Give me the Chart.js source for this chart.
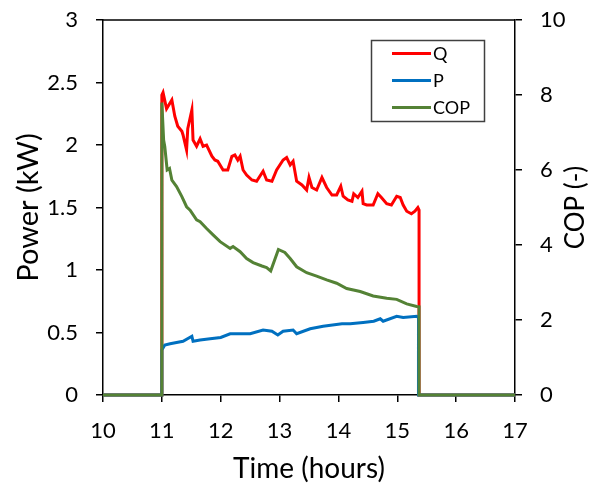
<!DOCTYPE html>
<html>
<head>
<meta charset="utf-8">
<script src="https://cdn.jsdelivr.net/npm/chart.js@4.4.1/dist/chart.umd.min.js"></script>
<style>
  body { margin: 0; background: #fff; }
  #wrap { width: 591px; height: 487px; }
</style>
</head>
<body>
<div id="wrap"><canvas id="heat-pump-chart" width="591" height="487"></canvas></div>
<script>
// time in hours
const qTime = [10, 11.0, 11.0, 11.02, 11.08, 11.17, 11.22, 11.27, 11.34, 11.36, 11.42, 11.44, 11.51, 11.53, 11.59, 11.65, 11.70, 11.76, 11.85, 11.90, 11.95, 12.04, 12.12, 12.19, 12.24, 12.29, 12.33, 12.38, 12.44, 12.53, 12.61, 12.72, 12.78, 12.87, 12.95, 13.06, 13.12, 13.18, 13.23, 13.29, 13.38, 13.46, 13.50, 13.55, 13.63, 13.72, 13.80, 13.89, 13.97, 14.04, 14.08, 14.16, 14.23, 14.26, 14.33, 14.40, 14.42, 14.48, 14.59, 14.67, 14.73, 14.82, 14.90, 14.99, 15.05, 15.10, 15.16, 15.24, 15.30, 15.35, 15.37, 15.37, 17];
const qValues = [0, 0, 2.40, 2.42, 2.29, 2.36, 2.23, 2.15, 2.11, 2.08, 1.96, 2.13, 2.28, 2.04, 1.99, 2.05, 1.99, 2.00, 1.91, 1.88, 1.87, 1.80, 1.80, 1.91, 1.92, 1.88, 1.91, 1.80, 1.76, 1.72, 1.71, 1.79, 1.72, 1.71, 1.80, 1.88, 1.90, 1.84, 1.87, 1.71, 1.68, 1.64, 1.74, 1.66, 1.64, 1.74, 1.66, 1.60, 1.60, 1.67, 1.59, 1.56, 1.55, 1.61, 1.58, 1.63, 1.53, 1.52, 1.52, 1.61, 1.58, 1.53, 1.52, 1.59, 1.58, 1.52, 1.47, 1.45, 1.47, 1.50, 1.48, 0, 0];

const pTime = [10, 11.0, 11.0, 11.05, 11.14, 11.25, 11.36, 11.51, 11.53, 11.65, 11.82, 12.0, 12.16, 12.29, 12.50, 12.72, 12.87, 12.97, 13.06, 13.23, 13.29, 13.52, 13.74, 14.06, 14.20, 14.42, 14.60, 14.71, 14.76, 14.99, 15.10, 15.33, 15.36, 15.36, 17];
const pValues = [0, 0, 0.36, 0.40, 0.41, 0.42, 0.43, 0.47, 0.43, 0.44, 0.45, 0.46, 0.49, 0.49, 0.49, 0.52, 0.51, 0.48, 0.51, 0.52, 0.49, 0.53, 0.55, 0.57, 0.57, 0.58, 0.59, 0.61, 0.59, 0.63, 0.62, 0.63, 0.62, 0, 0];

const copTime = [10, 11.0, 11.0, 11.03, 11.05, 11.09, 11.13, 11.17, 11.25, 11.34, 11.42, 11.48, 11.59, 11.65, 11.76, 11.87, 11.99, 12.16, 12.21, 12.33, 12.44, 12.55, 12.70, 12.78, 12.85, 12.98, 13.09, 13.18, 13.29, 13.46, 13.63, 13.80, 13.97, 14.14, 14.37, 14.59, 14.82, 14.99, 15.16, 15.33, 15.37, 15.37, 17];
const copValues = [0, 0, 7.80, 6.80, 6.62, 6.00, 6.04, 5.73, 5.56, 5.29, 5.02, 4.93, 4.67, 4.62, 4.44, 4.27, 4.09, 3.91, 3.96, 3.82, 3.64, 3.53, 3.44, 3.40, 3.31, 3.88, 3.80, 3.64, 3.42, 3.26, 3.17, 3.07, 2.98, 2.84, 2.76, 2.64, 2.58, 2.55, 2.43, 2.36, 2.35, 0, 0];

const seriesLabels = ["Q", "P", "COP"];
const seriesColors = ["#FF0000", "#0070C0", "#548235"];

const FONT = "Lato, 'Open Sans', sans-serif";

function toPoints(xs, ys) {
  return xs.map((x, i) => ({ x: x, y: ys[i] }));
}

// top border of the plot area
const topBorder = {
  id: "topBorder",
  afterDraw(chart) {
    const { ctx, chartArea } = chart;
    ctx.save();
    ctx.strokeStyle = "#000";
    ctx.lineWidth = 1.5;
    ctx.beginPath();
    ctx.moveTo(chartArea.left, chartArea.top);
    ctx.lineTo(chartArea.right, chartArea.top);
    ctx.stroke();
    ctx.restore();
  },
};

// legend box inside the plot, like the original
const boxLegend = {
  id: "boxLegend",
  afterDraw(chart) {
    const { ctx } = chart;
    const bx = 371.5, by = 40.5, bw = 113, bh = 81;
    ctx.save();
    ctx.fillStyle = "#fff";
    ctx.fillRect(bx, by, bw, bh);
    ctx.strokeStyle = "#404040";
    ctx.lineWidth = 1.5;
    ctx.strokeRect(bx, by, bw, bh);
    ctx.font = "18px " + FONT;
    ctx.textBaseline = "middle";
    ctx.textAlign = "left";
    seriesLabels.forEach((label, i) => {
      const y = 53.5 + i * 27;
      ctx.strokeStyle = seriesColors[i];
      ctx.lineWidth = 3;
      ctx.beginPath();
      ctx.moveTo(392, y);
      ctx.lineTo(431, y);
      ctx.stroke();
      ctx.fillStyle = "#000";
      ctx.fillText(label, 433, y + 1);
    });
    ctx.restore();
  },
};

// right axis title reads bottom to top in the original
const rightTitle = {
  id: "rightTitle",
  afterDraw(chart) {
    const { ctx, chartArea } = chart;
    ctx.save();
    ctx.translate(576, (chartArea.top + chartArea.bottom) / 2);
    ctx.rotate(-Math.PI / 2);
    ctx.font = "26px " + FONT;
    ctx.fillStyle = "#000";
    ctx.textAlign = "center";
    ctx.textBaseline = "middle";
    ctx.fillText("COP (-)", 0, 0);
    ctx.restore();
  },
};

const axisGrid = {
  drawOnChartArea: false,
  drawTicks: true,
  tickLength: 7,
  color: "#000",
  lineWidth: 1.5,
};

const plainNumber = (value) => String(value);

// fixed axis sizes so the plot area sits where the original's does
function fixWidth(w) {
  return (scale) => {
    scale.width = w;
    scale.paddingTop = 0;
    scale.paddingBottom = 0;
  };
}

const ctx = document.getElementById("heat-pump-chart").getContext("2d");
const chart = new Chart(ctx, {
  type: "line",
  data: {
    datasets: [
      {
        label: "Q",
        data: toPoints(qTime, qValues),
        borderColor: seriesColors[0],
        yAxisID: "y",
        order: 2,
      },
      {
        label: "P",
        data: toPoints(pTime, pValues),
        borderColor: seriesColors[1],
        yAxisID: "y",
        order: 1,
      },
      {
        label: "COP",
        data: toPoints(copTime, copValues),
        borderColor: seriesColors[2],
        yAxisID: "y2",
        order: 0,
      },
    ],
  },
  options: {
    responsive: false,
    animation: false,
    clip: false,
    layout: { padding: { top: 20, left: 0, right: 0, bottom: 0 } },
    elements: {
      point: { radius: 0 },
      line: { borderWidth: 3, tension: 0, fill: false },
    },
    plugins: {
      legend: { display: false },
      tooltip: { enabled: false },
    },
    scales: {
      x: {
        type: "linear",
        min: 10,
        max: 17,
        ticks: {
          stepSize: 1,
          color: "#000",
          padding: 16,
          font: { family: FONT, size: 22 },
          maxRotation: 0,
          callback: plainNumber,
        },
        grid: axisGrid,
        border: { color: "#000", width: 1.5 },
        title: {
          display: true,
          text: "Time (hours)",
          color: "#000",
          font: { family: FONT, size: 28 },
          padding: { top: 0, bottom: 1 },
        },
        afterFit(scale) {
          scale.height = 92;
          scale.paddingLeft = 0;
          scale.paddingRight = 0;
        },
      },
      y: {
        position: "left",
        min: 0,
        max: 3,
        ticks: {
          stepSize: 0.5,
          color: "#000",
          padding: 18,
          font: { family: FONT, size: 22 },
          callback: plainNumber,
        },
        grid: axisGrid,
        border: { color: "#000", width: 1.5 },
        title: {
          display: true,
          text: "Power (kW)",
          color: "#000",
          font: { family: FONT, size: 29 },
          padding: { top: 11, bottom: 0 },
        },
        afterFit: fixWidth(103),
      },
      y2: {
        position: "right",
        min: 0,
        max: 10,
        ticks: {
          stepSize: 2,
          color: "#000",
          padding: 18,
          font: { family: FONT, size: 22 },
          callback: plainNumber,
        },
        grid: axisGrid,
        border: { color: "#000", width: 1.5 },
        afterFit: fixWidth(76),
      },
    },
  },
  plugins: [topBorder, boxLegend, rightTitle],
});
</script>
</body>
</html>
